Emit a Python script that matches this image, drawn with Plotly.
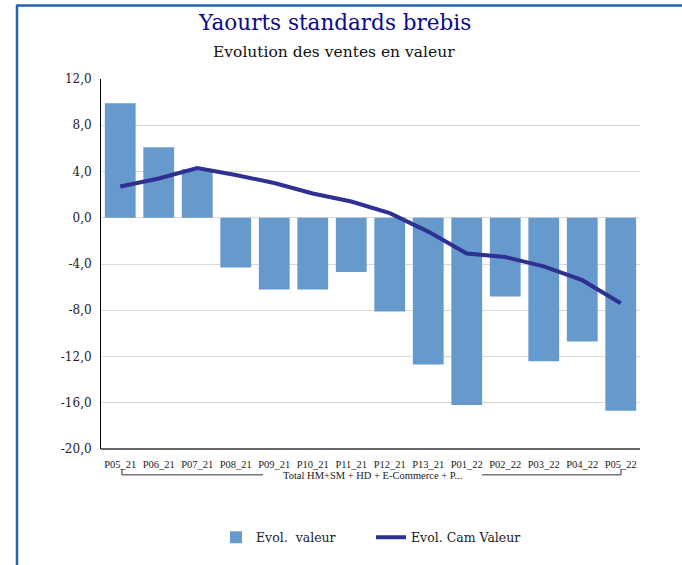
import plotly.graph_objects as go

periods = ["P05_21", "P06_21", "P07_21", "P08_21", "P09_21", "P10_21", "P11_21",
           "P12_21", "P13_21", "P01_22", "P02_22", "P03_22", "P04_22", "P05_22"]
evol_valeur = [9.9, 6.1, 4.2, -4.3, -6.2, -6.2, -4.7, -8.1, -12.7, -16.2, -6.8, -12.4, -10.7, -16.7]
evol_cam_valeur = [2.7, 3.4, 4.3, 3.7, 3.0, 2.1, 1.4, 0.4, -1.2, -3.1, -3.4, -4.2, -5.4, -7.4]
y_ticks = [12, 8, 4, 0, -4, -8, -12, -16, -20]
y_tick_labels = ["12,0", "8,0", "4,0", "0,0", "-4,0", "-8,0", "-12,0", "-16,0", "-20,0"]
group_label = "Total HM+SM + HD + E-Commerce + P..."

W, H = 682, 565
ML, MR, MT, MB = 101, 42, 79, 114
PW = W - ML - MR
PH = H - MT - MB

def px(x):
    return (x - ML) / PW

def py(y):
    return (H - MB - y) / PH

serif = "DejaVu Serif"
times = "Liberation Serif"

fig = go.Figure()
fig.add_trace(go.Bar(
    x=periods, y=evol_valeur, name="Evol.  valeur",
    marker=dict(color="#6699CC", line=dict(width=0)),
))
fig.add_trace(go.Scatter(
    x=periods, y=evol_cam_valeur, name="Evol. Cam Valeur", mode="lines",
    line=dict(color="#2E3092", width=4),
))

shapes = [
    # frame
    dict(type="line", xref="paper", yref="paper", x0=px(17), x1=px(690), y0=py(5), y1=py(5),
         line=dict(color="#2563B0", width=2.5)),
    dict(type="line", xref="paper", yref="paper", x0=px(17), x1=px(17), y0=py(4), y1=py(570),
         line=dict(color="#2563B0", width=2.5)),
    # bracket
    dict(type="line", xref="paper", yref="paper", x0=px(122), x1=px(263), y0=py(477), y1=py(477),
         line=dict(color="#333333", width=1)),
    dict(type="line", xref="paper", yref="paper", x0=px(482), x1=px(621), y0=py(477), y1=py(477),
         line=dict(color="#333333", width=1)),
    dict(type="line", xref="paper", yref="paper", x0=px(122), x1=px(122), y0=py(477), y1=py(471),
         line=dict(color="#333333", width=1)),
    dict(type="line", xref="paper", yref="paper", x0=px(621), x1=px(621), y0=py(477), y1=py(471),
         line=dict(color="#333333", width=1)),
    # bottom axis line at -20
    dict(type="line", xref="paper", yref="paper", x0=0, x1=1, y0=0, y1=0,
         line=dict(color="#333333", width=1.5)),
]

annotations = [
    dict(text="Yaourts standards brebis", xref="paper", yref="paper", x=px(334), y=py(22),
         showarrow=False, font=dict(family=serif, size=21.5, color="#0A0A8C"), xanchor="center", yanchor="middle"),
    dict(text="Evolution des ventes en valeur", xref="paper", yref="paper", x=px(334), y=py(52),
         showarrow=False, font=dict(family=serif, size=15.5, color="#111111"), xanchor="center", yanchor="middle"),
    dict(text=group_label, xref="paper", yref="paper", x=px(372), y=py(478),
         showarrow=False, font=dict(family=times, size=10.5, color="#222222"), xanchor="center", yanchor="middle"),
]

fig.update_layout(
    width=W, height=H,
    margin=dict(l=ML, r=MR, t=MT, b=MB),
    paper_bgcolor="white", plot_bgcolor="white",
    bargap=0.2,
    showlegend=True,
    legend=dict(orientation="h", x=px(371), xanchor="center", y=py(540), yanchor="middle",
                font=dict(family=serif, size=12.5, color="#222222"), itemwidth=30,
                entrywidth=110, entrywidthmode="pixels",
                traceorder="normal"),
    shapes=shapes,
    annotations=annotations,
)
fig.update_xaxes(
    type="category", showgrid=False, showline=False, zeroline=False,
    tickfont=dict(family=times, size=10.5, color="#222222"), ticks="", tickangle=0,
    ticklabelstandoff=7,
)
fig.update_yaxes(
    range=[-20, 12], tickvals=y_ticks, ticktext=y_tick_labels,
    showgrid=True, gridcolor="#D9D9D9", gridwidth=1,
    zeroline=True, zerolinecolor="#D9D9D9", zerolinewidth=1,
    showline=True, linecolor="#000000", linewidth=1,
    tickfont=dict(family=serif, size=12, color="#222222"),
    ticks="", ticklabelstandoff=6,
)

fig.write_html("out.html", config={"displayModeBar": False},
               post_script="document.body.style.margin='0';")
